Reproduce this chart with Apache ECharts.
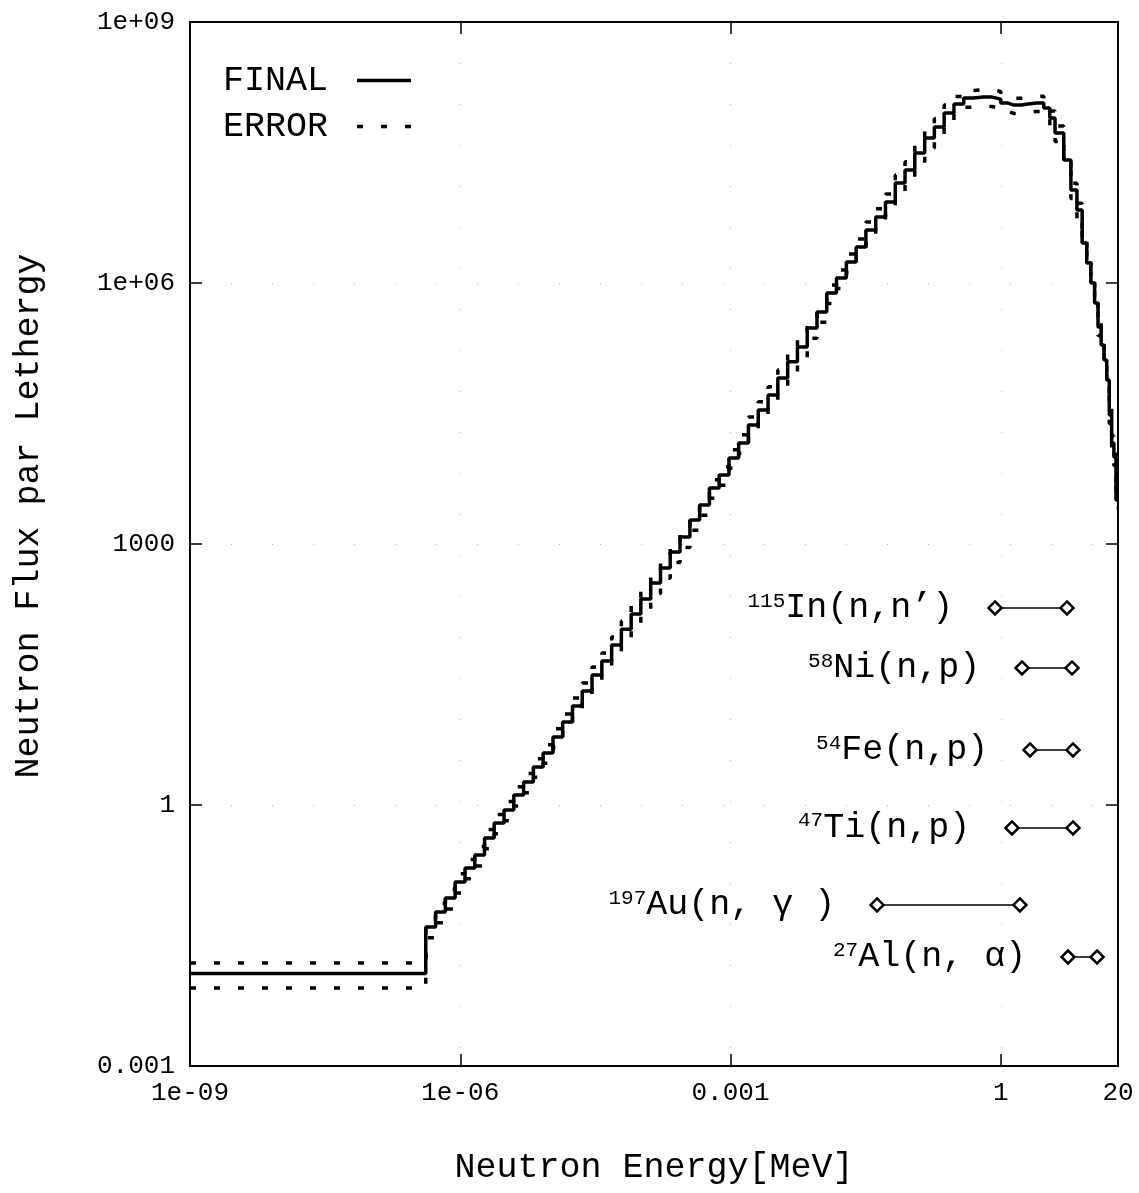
<!DOCTYPE html>
<html>
<head>
<meta charset="utf-8">
<script src="https://cdn.jsdelivr.net/npm/echarts@6.0.0/dist/echarts.min.js"></script>
<style>
html, body { margin: 0; padding: 0; background: #fff; }
#main { width: 1139px; height: 1193px; }
</style>
</head>
<body>
<div id="main"></div>
<script>
// group edges [MeV]; flux per group (one less than edges)
var energyEdges = [1e-9,
    4.14e-7, 5.32e-7, 6.83e-7, 8.77e-7, 1.13e-6, 1.45e-6, 1.86e-6, 2.38e-6, 3.06e-6, 3.93e-6,
    5.05e-6, 6.48e-6, 8.32e-6, 1.07e-5, 1.37e-5, 1.76e-5, 2.26e-5, 2.90e-5, 3.73e-5, 4.79e-5,
    6.14e-5, 7.89e-5, 1.01e-4, 1.30e-4, 1.67e-4, 2.14e-4, 2.75e-4, 3.54e-4, 4.54e-4, 5.83e-4,
    7.48e-4, 9.61e-4, 1.23e-3, 1.58e-3, 2.03e-3, 2.61e-3, 3.35e-3, 4.31e-3, 5.53e-3, 7.10e-3,
    9.12e-3, 1.17e-2, 1.50e-2, 1.93e-2, 2.48e-2, 3.18e-2, 4.09e-2, 5.25e-2, 6.74e-2, 8.65e-2,
    0.111, 0.143, 0.183, 0.235, 0.302, 0.388,
    0.498, 0.639, 0.8, 1.0, 1.2, 1.4, 1.7, 2.0, 2.5, 3.0, 3.5,
    4, 5, 6, 7, 8, 9, 10, 11, 12, 13, 14, 15, 16, 17, 18, 19, 20];

var finalFlux = [0.0116,
    0.0396, 0.0589, 0.0853, 0.130, 0.189, 0.266, 0.418, 0.621, 0.877, 1.30,
    1.84, 2.74, 3.96, 6.05, 8.99, 13.7, 20.4, 31.2, 45.2, 69.0,
    105, 157, 233, 356, 530, 809, 1200, 1890, 2810, 4410,
    6210, 9750, 14500, 23300, 34700, 51600, 80900, 1.24e5, 1.84e5, 3.04e5,
    4.65e5, 7.67e5, 1.14e6, 1.74e6, 2.59e6, 4.06e6, 5.74e6, 8.53e6, 1.41e7, 1.99e7,
    3.12e7, 4.65e7, 6.21e7, 8.99e7, 1.14e8, 1.34e8,
    1.37e8, 1.37e8, 1.30e8, 1.17e8, 1.11e8, 1.11e8, 1.14e8, 1.17e8, 1.17e8, 1.03e8, 7.89e7,
    5.30e7, 2.59e7, 1.17e7, 6.90e6, 2.88e6, 1.70e6, 1.00e6, 5.89e5, 3.12e5, 1.94e5,
    1.30e5, 7.67e4, 3.04e4, 1.45e4, 1.00e4, 3.21e3];

// relative error of each group
var relError = [0.32,
    0.25, 0.25, 0.25, 0.25, 0.25, 0.25, 0.25, 0.25, 0.25, 0.25,
    0.25, 0.24, 0.24, 0.24, 0.24, 0.24, 0.24, 0.24, 0.24, 0.24,
    0.24, 0.24, 0.24, 0.24, 0.24, 0.24, 0.24, 0.24, 0.24, 0.24,
    0.24, 0.24, 0.24, 0.24, 0.24, 0.24, 0.24, 0.24, 0.24, 0.24,
    0.24, 0.24, 0.24, 0.24, 0.24, 0.24, 0.24, 0.24, 0.24, 0.24,
    0.24, 0.24, 0.24, 0.24, 0.22, 0.22,
    0.22, 0.22, 0.22, 0.2, 0.2, 0.2, 0.2, 0.2, 0.2, 0.2, 0.2,
    0.2, 0.2, 0.2, 0.2, 0.2, 0.2, 0.2, 0.2, 0.2, 0.2,
    0.2, 0.2, 0.2, 0.2, 0.2, 0.2];

var xTickValues = [1e-9, 1e-6, 1e-3, 1, 20];
var xTickLabels = ['1e-09', '1e-06', '0.001', '1', '20'];
var yTickValues = [1e-3, 1, 1e3, 1e6, 1e9];
var yTickLabels = ['0.001', '1', '1000', '1e+06', '1e+09'];

var reactionMass = ['115', '58', '54', '47', '197', '27'];
var reactionNames = ['In(n,n’)', 'Ni(n,p)', 'Fe(n,p)', 'Ti(n,p)', 'Au(n, γ )', 'Al(n, α)'];
var reactionLow = [0.863, 1.72, 2.11, 1.33, 0.0423, 5.57];
var reactionHigh = [5.43, 6.17, 6.33, 6.33, 1.63, 11.7];
var reactionLevel = [184, 37.6, 4.29, 0.545, 0.0710, 0.0179];

var FONT = '"Liberation Mono", "DejaVu Sans Mono", monospace';

function stepData(values) {
    var pts = [];
    for (var i = 0; i < values.length; i++) {
        pts.push([energyEdges[i], values[i]]);
    }
    pts.push([energyEdges[values.length], values[values.length - 1]]);
    return pts;
}

function tickText(values, labels, v) {
    var best = 0;
    for (var i = 1; i < values.length; i++) {
        if (Math.abs(Math.log10(values[i] / v)) < Math.abs(Math.log10(values[best] / v))) best = i;
    }
    return Math.abs(Math.log10(values[best] / v)) < 0.05 ? labels[best] : '';
}

var upper = [], lower = [];
for (var i = 0; i < finalFlux.length; i++) {
    upper.push(finalFlux[i] * (1 + relError[i]));
    lower.push(finalFlux[i] * (1 - relError[i]));
}

function makeXAxis(pos) {
    var bottom = pos === 'bottom';
    return {
        type: 'log', logBase: 10, min: 1e-9, max: 20, interval: 3, position: pos,
        axisLine: { show: true, lineStyle: { color: '#000', width: 2 } },
        axisTick: { show: true, inside: true, length: 12, lineStyle: { color: '#000', width: 1.5 } },
        axisLabel: {
            show: bottom, fontFamily: FONT, fontSize: 26, color: '#000', margin: 14,
            showMinLabel: true, showMaxLabel: true,
            formatter: function (v) { return tickText(xTickValues, xTickLabels, v); }
        },
        splitLine: { show: bottom, lineStyle: { color: '#bbb', width: 1, type: [1, 40] } },
        minorTick: { show: false },
        name: bottom ? 'Neutron Energy[MeV]' : '',
        nameLocation: 'middle', nameGap: 84,
        nameTextStyle: { fontFamily: FONT, fontSize: 35, color: '#000' }
    };
}

function makeYAxis(pos) {
    var left = pos === 'left';
    return {
        type: 'log', logBase: 10, min: 1e-3, max: 1e9, interval: 3, position: pos,
        axisLine: { show: true, lineStyle: { color: '#000', width: 2 } },
        axisTick: { show: true, inside: true, length: 12, lineStyle: { color: '#000', width: 1.5 } },
        axisLabel: {
            show: left, fontFamily: FONT, fontSize: 26, color: '#000', margin: 15,
            showMinLabel: true, showMaxLabel: true,
            formatter: function (v) { return tickText(yTickValues, yTickLabels, v); }
        },
        splitLine: { show: left, lineStyle: { color: '#bbb', width: 1, type: [1, 40] } },
        minorTick: { show: false },
        name: left ? 'Neutron Flux par Lethergy' : '',
        nameLocation: 'middle', nameGap: 144,
        nameTextStyle: { fontFamily: FONT, fontSize: 35, color: '#000', padding: [0, 0, 0, 56] }
    };
}

var series = [
    {
        name: 'FINAL', type: 'line', step: 'end', data: stepData(finalFlux),
        symbol: 'none', xAxisIndex: 0, yAxisIndex: 0,
        lineStyle: { color: '#000', width: 3.5 }, itemStyle: { color: '#000' }
    },
    {
        name: 'ERROR', type: 'line', step: 'end', data: stepData(upper),
        symbol: 'none', xAxisIndex: 0, yAxisIndex: 0,
        lineStyle: { color: '#000', width: 3.5, type: [6, 18] }, itemStyle: { color: '#000' }
    },
    {
        name: 'ERROR', type: 'line', step: 'end', data: stepData(lower),
        symbol: 'none', xAxisIndex: 0, yAxisIndex: 0,
        lineStyle: { color: '#000', width: 3.5, type: [6, 18] }, itemStyle: { color: '#000' }
    }
];

for (var r = 0; r < reactionNames.length; r++) {
    series.push({
        type: 'line', xAxisIndex: 0, yAxisIndex: 0, silent: true,
        symbol: 'diamond', symbolSize: 13,
        itemStyle: { color: '#fff', borderColor: '#000', borderWidth: 2.5 },
        lineStyle: { color: '#000', width: 1.5 },
        data: [
            {
                value: [reactionLow[r], reactionLevel[r]],
                label: {
                    show: true, position: 'left', distance: 34,
                    formatter: '{s|' + reactionMass[r] + '}{m|' + reactionNames[r] + '}',
                    rich: {
                        s: { fontFamily: FONT, fontSize: 21, color: '#000', verticalAlign: 'top' },
                        m: { fontFamily: FONT, fontSize: 35, color: '#000', verticalAlign: 'bottom' }
                    }
                }
            },
            [reactionHigh[r], reactionLevel[r]]
        ]
    });
}

var chart = echarts.init(document.getElementById('main'), null, { renderer: 'canvas' });
chart.setOption({
    animation: false,
    backgroundColor: '#fff',
    grid: { left: 190, top: 22, width: 928, height: 1044, containLabel: false, outerBoundsMode: 'none' },
    legend: {
        data: ['FINAL', 'ERROR'],
        orient: 'vertical', left: 218, top: 58, align: 'right',
        itemWidth: 54, itemHeight: 14, itemGap: 11,
        itemStyle: { opacity: 0 },
        lineStyle: { width: 3.5, color: '#000' },
        textStyle: { fontFamily: FONT, fontSize: 35, color: '#000', padding: [0, 24, 0, 0] }
    },
    xAxis: [makeXAxis('bottom'), makeXAxis('top')],
    yAxis: [makeYAxis('left'), makeYAxis('right')],
    series: series
});
</script>
</body>
</html>
